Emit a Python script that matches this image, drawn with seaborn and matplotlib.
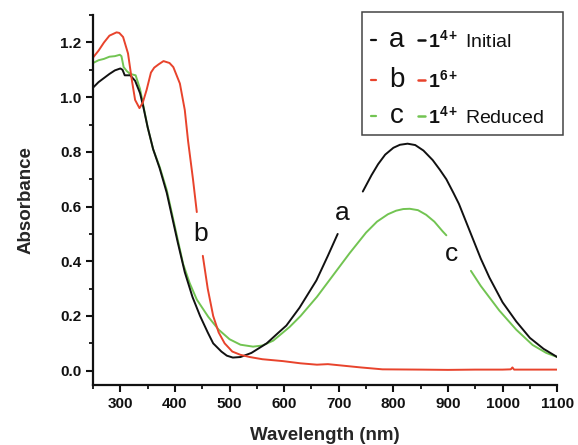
"""UV-vis-NIR absorbance spectra of 1(4+) initial, 1(6+) and 1(4+) reduced."""

import matplotlib
matplotlib.use("Agg")
import matplotlib.pyplot as plt
from matplotlib.lines import Line2D
from matplotlib.patches import Rectangle
from matplotlib.ticker import MultipleLocator
import pandas as pd
import seaborn as sns

# ---- data (wavelength nm, absorbance); seg = line piece
a_wl = [250, 260, 270, 280, 290, 300, 304, 308, 318, 327, 336, 342, 350, 360,
        372, 385, 395, 405, 418, 432, 446, 460, 470, 485, 495, 506, 520, 540,
        568, 590, 604, 628, 659, 680, 698,
        744, 760, 772, 785, 800, 812, 826, 840, 855, 872, 885, 897, 910, 920,
        939, 960, 976, 1000, 1025, 1050, 1075, 1100]
a_abs = [1.035, 1.055, 1.07, 1.085, 1.098, 1.105, 1.10, 1.08, 1.08, 1.06,
         1.015, 0.965, 0.89, 0.81, 0.74, 0.65, 0.56, 0.47, 0.36, 0.27, 0.20,
         0.14, 0.10, 0.07, 0.055, 0.048, 0.05, 0.065, 0.10, 0.14, 0.165, 0.23,
         0.33, 0.42, 0.50,
         0.655, 0.715, 0.755, 0.79, 0.815, 0.826, 0.83, 0.825, 0.805, 0.77,
         0.735, 0.70, 0.65, 0.61, 0.515, 0.41, 0.34, 0.25, 0.18, 0.12, 0.08,
         0.05]
a_seg = [0] * 35 + [1] * 22

b_wl = [250, 260, 270, 280, 293, 298, 305, 314, 321, 327, 335, 341, 348, 356,
        362, 370, 379, 390, 397, 409, 418, 424, 433, 440,
        451, 460, 470, 480, 491, 505, 520, 537, 560, 598, 630, 660, 680, 700,
        740, 780, 850, 900, 950, 1000, 1015, 1018, 1021, 1050, 1100]
b_abs = [1.145, 1.17, 1.20, 1.225, 1.237, 1.235, 1.22, 1.16, 1.063, 0.99,
         0.96, 0.98, 1.026, 1.09, 1.108, 1.12, 1.132, 1.125, 1.11, 1.05, 0.953,
         0.84, 0.70, 0.58,
         0.42, 0.30, 0.20, 0.14, 0.10, 0.07, 0.058, 0.05, 0.042, 0.035, 0.027,
         0.022, 0.024, 0.02, 0.012, 0.005, 0.004, 0.003, 0.004, 0.004, 0.005,
         0.012, 0.004, 0.004, 0.004]
b_seg = [0] * 24 + [1] * 25

c_wl = [250, 260, 270, 280, 290, 299, 302, 306, 312, 318, 328, 336, 342, 350,
        360, 372, 385, 395, 405, 415, 427, 440, 461, 480, 500, 520, 543, 560,
        580, 610, 630, 660, 690, 720, 750, 770, 790, 805, 818, 830, 845, 860,
        875, 890, 897,
        942, 960, 994, 1025, 1055, 1080, 1100]
c_abs = [1.125, 1.135, 1.14, 1.148, 1.15, 1.155, 1.15, 1.11, 1.095, 1.085,
         1.08, 1.03, 0.97, 0.89, 0.81, 0.745, 0.66, 0.57, 0.48, 0.39, 0.32,
         0.26, 0.197, 0.15, 0.115, 0.095, 0.088, 0.092, 0.11, 0.16, 0.20, 0.27,
         0.35, 0.43, 0.505, 0.545, 0.572, 0.585, 0.591, 0.592, 0.587, 0.57,
         0.545, 0.51, 0.495,
         0.365, 0.31, 0.22, 0.15, 0.094, 0.065, 0.05]
c_seg = [0] * 45 + [1] * 7

series_names = ["a", "b", "c"]
series_colors = ["#111111", "#e8432c", "#72c452"]
legend_labels = [r"$\mathbf{1^{4+}}$ Initial", r"$\mathbf{1^{6+}}$",
                 r"$\mathbf{1^{4+}}$ Reduced"]
# where the letter labels sit on the curves (wavelength, absorbance)
label_pos = {"a": (707, 0.575), "b": (447, 0.50), "c": (906, 0.425)}

x_ticks = list(range(300, 1101, 100))
y_ticks = [0.0, 0.2, 0.4, 0.6, 0.8, 1.0, 1.2]

frames = []
for name, wl, ab, seg in [("a", a_wl, a_abs, a_seg), ("b", b_wl, b_abs, b_seg),
                          ("c", c_wl, c_abs, c_seg)]:
    frames.append(pd.DataFrame({"wl": wl, "abs": ab, "seg": seg, "curve": name}))
df = pd.concat(frames, ignore_index=True)

sns.set_theme(style="ticks")
plt.rcParams.update({
    "font.family": ["Liberation Sans", "DejaVu Sans"],
    "mathtext.fontset": "custom",
    "mathtext.rm": "Liberation Sans",
    "mathtext.bf": "Liberation Sans:bold",
    "mathtext.it": "Liberation Sans:italic",
})

fig = plt.figure(figsize=(5.78, 4.45), dpi=100)
ax = fig.add_axes([0.161, 0.135, 0.803, 0.831])

# draw c, a, then b so the order of overlap looks like the original
for name in ["c", "a", "b"]:
    col = series_colors[series_names.index(name)]
    sns.lineplot(data=df[df["curve"] == name], x="wl", y="abs", units="seg",
                 estimator=None, sort=False, color=col, lw=1.4, ax=ax,
                 legend=False)

for name, (lx, ly) in label_pos.items():
    ax.text(lx, ly, name, fontsize=19, ha="center", va="center", color="#111111")

ax.set_xlim(250, 1100)
ax.set_ylim(-0.052, 1.30)
ax.set_xticks(x_ticks)
ax.set_yticks(y_ticks)
ax.set_yticklabels([f"{v:.1f}" for v in y_ticks])
ax.xaxis.set_minor_locator(MultipleLocator(50))
ax.yaxis.set_minor_locator(MultipleLocator(0.1))
ax.tick_params(which="major", direction="out", length=5, width=1.5,
               labelsize=11, colors="#111111")
ax.tick_params(which="minor", direction="out", length=3, width=1.3,
               colors="#111111")
for lab in ax.get_xticklabels() + ax.get_yticklabels():
    lab.set_fontweight("bold")
sns.despine(ax=ax)
for side in ["left", "bottom"]:
    ax.spines[side].set_linewidth(1.6)
    ax.spines[side].set_color("#111111")
ax.set_xlabel("Wavelength (nm)", fontsize=13.5, fontweight="bold", labelpad=12)
ax.set_ylabel("Absorbance", fontsize=13.5, fontweight="bold", labelpad=18)

# hand-built legend box (letter + dash + compound name), partly outside the axes
W, H = 578.0, 445.0
def fx(px):
    return px / W
def fy(py):
    return 1 - py / H

fig.patches.append(Rectangle((fx(362), fy(135)), fx(563) - fx(362),
                             fy(12) - fy(135), transform=fig.transFigure,
                             facecolor="white", edgecolor="#444444", lw=1.1))
row_y = [40, 80, 116]
for name, col, lab, ry in zip(series_names, series_colors, legend_labels, row_y):
    fig.lines.append(Line2D([fx(371), fx(376)], [fy(ry), fy(ry)],
                            transform=fig.transFigure, color=col, lw=1.6))
    fig.text(fx(397), fy(ry), name, fontsize=20, ha="center", va="center",
             color="#111111")
    fig.lines.append(Line2D([fx(418), fx(425)], [fy(ry), fy(ry)],
                            transform=fig.transFigure, color=col, lw=1.8))
    fig.text(fx(428), fy(ry), lab, fontsize=14, ha="left", va="center",
             color="#111111")

fig.savefig("out.png", dpi=100)
